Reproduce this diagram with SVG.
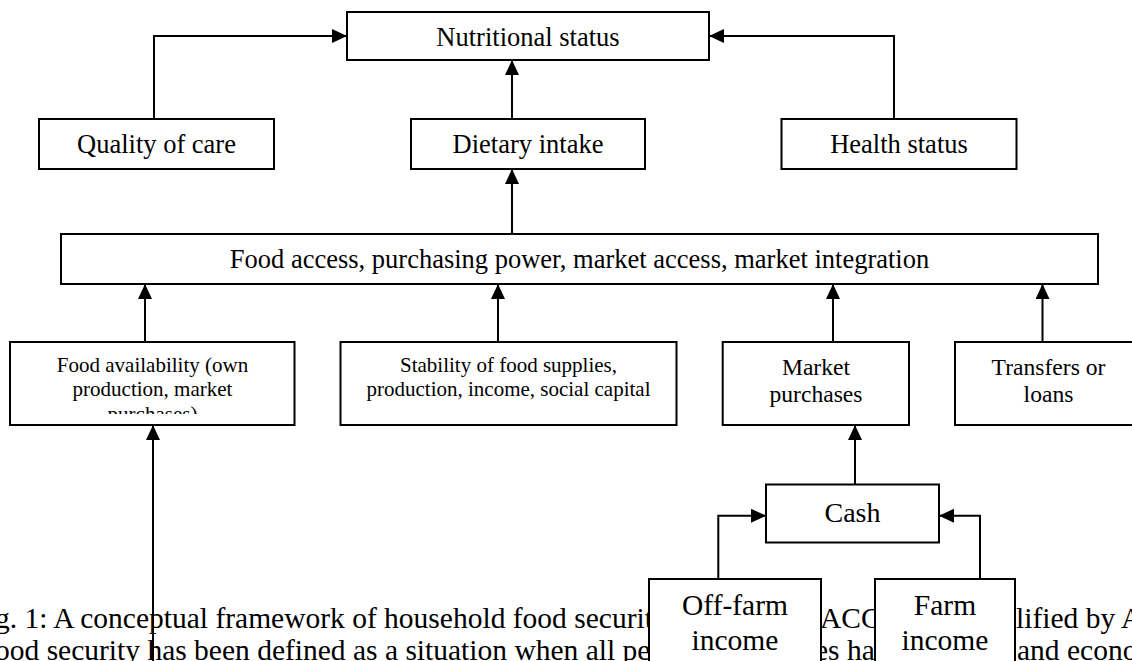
<svg xmlns="http://www.w3.org/2000/svg" width="1132" height="661" viewBox="0 0 1132 661">
<style>
.box{fill:#fff;stroke:#000;stroke-width:2}
.t{font-family:"Liberation Serif","Times New Roman",serif;fill:#000;text-anchor:middle}
.cap{font-family:"Liberation Serif","Times New Roman",serif;fill:#000;font-size:29.5px}
.c{fill:none;stroke:#000;stroke-width:2;marker-end:url(#ah)}
</style>
<defs>
<marker id="ah" markerUnits="userSpaceOnUse" markerWidth="16" markerHeight="15" refX="15" refY="7" orient="auto" viewBox="0 0 16 15"><path d="M0,0 L15,7 L0,14 z" fill="#000"/></marker>
<clipPath id="clipFA"><rect x="10" y="342" width="285" height="72"/></clipPath>
</defs>
<rect width="1132" height="661" fill="#fff"/>
<g id="caption">
<text class="cap" x="-5" y="628">g. 1: A conceptual framework of household food securit</text>
<text class="cap" x="820" y="628">ACC</text>
<text class="cap" x="1016" y="628">lified by A</text>
<text class="cap" x="-5" y="659.5">ood security has been defined as a situation when all pe</text>
<text class="cap" x="815" y="659.5">es ha</text>
<text class="cap" x="1017" y="659.5">and econo</text>
</g>
<g id="connectors">
<path class="c" d="M154,119 V36 H347"/>
<path class="c" d="M894,119 V36 H709"/>
<path class="c" d="M512,119 V60"/>
<path class="c" d="M512,234 V169"/>
<path class="c" d="M145,342 V284"/>
<path class="c" d="M498,342 V284"/>
<path class="c" d="M833,342 V284"/>
<path class="c" d="M1042.5,342 V284"/>
<path class="c" d="M153,661 V425"/>
<path class="c" d="M855,484.5 V425"/>
<path class="c" d="M718.3,579 V515.7 H766"/>
<path class="c" d="M980,579 V515.7 H939"/>
</g>
<g id="nutritional-status">
<rect class="box" x="347" y="12" width="362" height="48"/>
<text class="t" x="528" y="46" font-size="26.5">Nutritional status</text>
</g>
<g id="quality-of-care">
<rect class="box" x="39" y="119" width="235" height="50"/>
<text class="t" x="156.5" y="153" font-size="26.5">Quality of care</text>
</g>
<g id="dietary-intake">
<rect class="box" x="411" y="119" width="234" height="50"/>
<text class="t" x="528" y="153" font-size="26.5">Dietary intake</text>
</g>
<g id="health-status">
<rect class="box" x="781.5" y="119" width="235" height="50"/>
<text class="t" x="899" y="153" font-size="26.5">Health status</text>
</g>
<g id="food-access">
<rect class="box" x="61" y="234" width="1037" height="50"/>
<text class="t" x="579.5" y="268" font-size="26.5">Food access, purchasing power, market access, market integration</text>
</g>
<g id="food-availability">
<rect class="box" x="10" y="342" width="284.5" height="83"/>
<g clip-path="url(#clipFA)">
<text class="t" x="152.5" y="372" font-size="21">Food availability (own</text>
<text class="t" x="152.5" y="396" font-size="21">production, market</text>
<text class="t" x="152.5" y="420.5" font-size="21">purchases)</text>
</g>
</g>
<g id="stability">
<rect class="box" x="340.5" y="342" width="336" height="83"/>
<text class="t" x="508.5" y="372" font-size="21">Stability of food supplies,</text>
<text class="t" x="508.5" y="396" font-size="21">production, income, social capital</text>
</g>
<g id="market-purchases">
<rect class="box" x="722.7" y="342" width="186.3" height="83"/>
<text class="t" x="816" y="375" font-size="23.6">Market</text>
<text class="t" x="816" y="402" font-size="23.6">purchases</text>
</g>
<g id="transfers-or-loans">
<rect class="box" x="955" y="342" width="200" height="83"/>
<text class="t" x="1048.5" y="375" font-size="23.6">Transfers or</text>
<text class="t" x="1048.5" y="402" font-size="23.6">loans</text>
</g>
<g id="cash">
<rect class="box" x="766" y="484.5" width="173" height="58"/>
<text class="t" x="852.5" y="522" font-size="28">Cash</text>
</g>
<g id="off-farm-income">
<rect class="box" x="649" y="579" width="172" height="100"/>
<text class="t" x="735" y="615" font-size="29.5">Off-farm</text>
<text class="t" x="735" y="650" font-size="29.5">income</text>
</g>
<g id="farm-income">
<rect class="box" x="875" y="579" width="140" height="100"/>
<text class="t" x="945" y="615" font-size="29.5">Farm</text>
<text class="t" x="945" y="650" font-size="29.5">income</text>
</g>
</svg>
